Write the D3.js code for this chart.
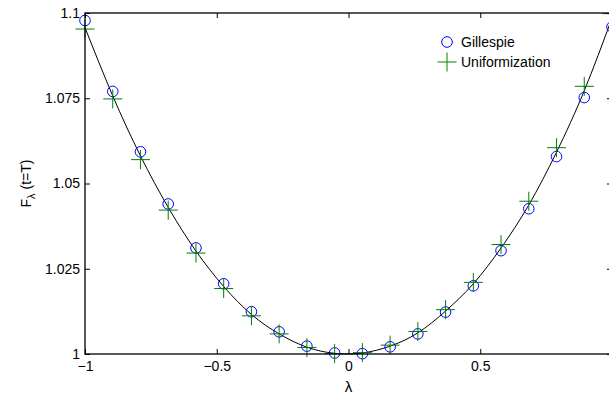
<!DOCTYPE html>
<html>
<head>
<meta charset="utf-8">
<script src="https://cdn.jsdelivr.net/npm/d3@7"></script>
<style>
  body { margin: 0; background: #fff; }
  svg { font-family: "Liberation Sans", Arial, sans-serif; }
</style>
</head>
<body>
<div class="chart"></div>
<script>
// Dimensions
const width = 609;
const height = 395;
const margin = { top: 13, right: -3, bottom: 41, left: 85 };

// Données (lambda = linspace(-1, 1, 20))
const lambdas = [-1, -0.8947, -0.7895, -0.6842, -0.5789, -0.4737, -0.3684, -0.2632, -0.1579, -0.0526,
                 0.0526, 0.1579, 0.2632, 0.3684, 0.4737, 0.5789, 0.6842, 0.7895, 0.8947, 1];
const gillespie = [1.0978, 1.0770, 1.0593, 1.0440, 1.0311, 1.0206, 1.0124, 1.0065, 1.0023, 1.0003,
                   1.0001, 1.0021, 1.0059, 1.0123, 1.0200, 1.0303, 1.0426, 1.0579, 1.0752, 1.0959];
const uniformization = [1.0953, 1.0748, 1.0570, 1.0422, 1.0296, 1.0192, 1.0112, 1.0059, 1.0019, 1.0001,
                        1.0004, 1.0026, 1.0066, 1.0130, 1.0210, 1.0321, 1.0448, 1.0605, 1.0785, 1.0998];
const theory = [1.0957, 1.0757, 1.0581, 1.0430, 1.0302, 1.0198, 1.0116, 1.0059, 1.0020, 1.0002,
                1.0003, 1.0023, 1.0062, 1.0126, 1.0206, 1.0311, 1.0437, 1.0592, 1.0772, 1.0985];

const xTicks = [-1, -0.5, 0, 0.5, 1];
const yTicks = [1, 1.025, 1.05, 1.075, 1.1];
// le label "1" tombe hors de la fenêtre, comme sur la figure
const xTickLabels = ["\u22121", "\u22120.5", "0", "0.5", ""];
const yTickLabels = ["1", "1.025", "1.05", "1.075", "1.1"];
const seriesNames = ["Gillespie", "Uniformization"];

const svg = d3.select(".chart")
  .append("svg")
  .attr("width", width)
  .attr("height", height);

const x = d3.scaleLinear()
  .domain([-1, 1])
  .range([margin.left, width - margin.right]);

const y = d3.scaleLinear()
  .domain([1, 1.1])
  .range([height - margin.bottom, margin.top]);

const x0 = x.range()[0], x1 = x.range()[1];
const y0 = y.range()[0], y1 = y.range()[1];

// Courbe théorique
const line = d3.line()
  .x((d, i) => x(lambdas[i]))
  .y(d => y(d))
  .curve(d3.curveNatural);

svg.append("path")
  .datum(theory)
  .attr("d", line)
  .attr("fill", "none")
  .attr("stroke", "#000")
  .attr("stroke-width", 1);

// Gillespie : cercles bleus
svg.append("g")
  .selectAll("circle")
  .data(gillespie)
  .join("circle")
  .attr("cx", (d, i) => x(lambdas[i]))
  .attr("cy", d => y(d))
  .attr("r", 5.3)
  .attr("fill", "none")
  .attr("stroke", "#0000ff")
  .attr("stroke-width", 1);

// Uniformization : croix vertes
const plus = (cx, cy, s) => `M${cx - s},${cy}H${cx + s}M${cx},${cy - s}V${cy + s}`;
svg.append("g")
  .selectAll("path")
  .data(uniformization)
  .join("path")
  .attr("d", (d, i) => plus(x(lambdas[i]), y(d), 9.5))
  .attr("stroke", "#008000")
  .attr("stroke-width", 1);

// Cadre
svg.append("rect")
  .attr("x", x0).attr("y", y1)
  .attr("width", x1 - x0).attr("height", y0 - y1)
  .attr("fill", "none")
  .attr("stroke", "#000")
  .attr("stroke-width", 1.3);

// Axes (ticks vers l'intérieur)
svg.append("g")
  .attr("transform", `translate(0, ${y0})`)
  .call(d3.axisBottom(x).tickValues(xTicks).tickSize(-5).tickPadding(7)
    .tickFormat((d, i) => xTickLabels[i]))
  .call(g => g.select(".domain").remove());

svg.append("g")
  .attr("transform", `translate(0, ${y1})`)
  .call(d3.axisTop(x).tickValues(xTicks).tickSize(-5).tickFormat(""))
  .call(g => g.select(".domain").remove());

svg.append("g")
  .attr("transform", `translate(${x0}, 0)`)
  .call(d3.axisLeft(y).tickValues(yTicks).tickSize(-5).tickPadding(5)
    .tickFormat((d, i) => yTickLabels[i]))
  .call(g => g.select(".domain").remove());

svg.append("g")
  .attr("transform", `translate(${x1}, 0)`)
  .call(d3.axisRight(y).tickValues(yTicks).tickSize(-5).tickFormat(""))
  .call(g => g.select(".domain").remove());

svg.selectAll(".tick text")
  .attr("font-size", 14)
  .attr("font-family", "Liberation Sans, Arial, sans-serif")
  .attr("fill", "#000");
svg.selectAll(".tick line").attr("stroke", "#000");

// Titres des axes
svg.append("text")
  .attr("x", (x(-1) + x(1)) / 2)
  .attr("y", 392)
  .attr("text-anchor", "middle")
  .attr("font-size", 15)
  .text("\u03bb");

const yl = svg.append("text")
  .attr("transform", `translate(31, ${(y0 + y1) / 2}) rotate(-90)`)
  .attr("text-anchor", "middle")
  .attr("font-size", 14);
yl.append("tspan").text("F");
yl.append("tspan").attr("font-size", 11).attr("dy", 4).text("\u03bb");
yl.append("tspan").attr("dy", -4).text(" (t=T)");

// Légende
const legend = svg.append("g").attr("transform", "translate(447, 42)");
legend.append("circle")
  .attr("cx", 0).attr("cy", 0).attr("r", 5.3)
  .attr("fill", "none").attr("stroke", "#0000ff");
legend.append("path")
  .attr("d", plus(0, 20, 9.5))
  .attr("stroke", "#008000");
legend.selectAll("text")
  .data(seriesNames)
  .join("text")
  .attr("x", 14)
  .attr("y", (d, i) => i * 20 + 5)
  .attr("font-size", 14)
  .text(d => d);
</script>
</body>
</html>
